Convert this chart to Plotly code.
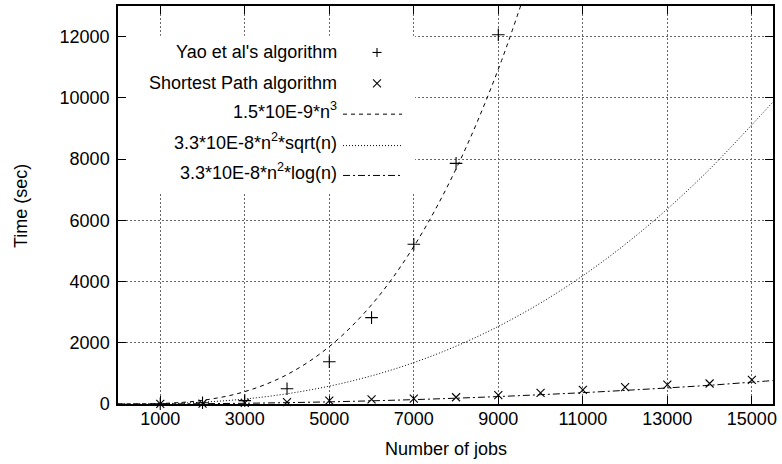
import plotly.graph_objects as go

# ---- data ----
jobs_yao = [1000, 2000, 3000, 4000, 5000, 6000, 7000, 8000, 9000]
time_yao = [10, 40, 110, 500, 1380, 2820, 5220, 7860, 12060]

jobs_sp = [1000, 2000, 3000, 4000, 5000, 6000, 7000, 8000, 9000, 10000,
           11000, 12000, 13000, 14000, 15000]
time_sp = [5, 15, 40, 60, 110, 150, 175, 220, 290, 360, 460, 550, 630, 670, 790]

n_cubic = [0, 1000, 2000, 3000, 4000, 5000, 6000, 7000, 8000, 9000, 10000]
fit_cubic = [0, 15, 120, 405, 960, 1875, 3240, 5145, 7680, 10935, 15000]

n_fit = [0, 1000, 2000, 3000, 4000, 5000, 6000, 7000, 8000, 9000, 10000,
         11000, 12000, 13000, 14000, 15000, 15500]
fit_sqrt = [0, 10, 59, 163, 334, 583, 920, 1353, 1889, 2535, 3300,
            4190, 5212, 6370, 7670, 9120, 9870]
fit_log = [0, 2, 10, 24, 44, 70, 104, 143, 190, 243, 304,
           370, 445, 525, 612, 714, 765]

x_ticks = [1000, 3000, 5000, 7000, 9000, 11000, 13000, 15000]
y_ticks = [0, 2000, 4000, 6000, 8000, 10000, 12000]

labels = ["Yao et al's algorithm", "Shortest Path algorithm",
          "1.5*10E-9*n<sup>3</sup>", "3.3*10E-8*n<sup>2</sup>*sqrt(n)",
          "3.3*10E-8*n<sup>2</sup>*log(n)"]

FONT = "Liberation Sans, Arial, Helvetica, sans-serif"
FS = 18
W, H = 782, 464
ML, MR, MT, MB = 118, 9, 4, 60
PW, PH = W - ML - MR, H - MT - MB


def px(xp):
    return (xp - ML) / PW


def py(yp):
    return (H - MB - yp) / PH


fig = go.Figure()

fig.add_trace(go.Scatter(x=n_cubic, y=fit_cubic, mode="lines", line_shape="spline",
                         line=dict(color="black", width=1, dash="4px,4px"),
                         showlegend=False, hoverinfo="skip"))
fig.add_trace(go.Scatter(x=n_fit, y=fit_sqrt, mode="lines", line_shape="spline",
                         line=dict(color="black", width=1, dash="1px,2px"),
                         showlegend=False, hoverinfo="skip"))
fig.add_trace(go.Scatter(x=n_fit, y=fit_log, mode="lines", line_shape="spline",
                         line=dict(color="black", width=1, dash="7px,3px,2px,3px"),
                         showlegend=False, hoverinfo="skip"))
fig.add_trace(go.Scatter(x=jobs_yao, y=time_yao, mode="markers",
                         marker=dict(symbol="cross-thin", size=9,
                                     line=dict(color="black", width=1.1)),
                         showlegend=False, cliponaxis=False))
fig.add_trace(go.Scatter(x=jobs_sp, y=time_sp, mode="markers",
                         marker=dict(symbol="x-thin", size=8,
                                     line=dict(color="black", width=1.1)),
                         showlegend=False, cliponaxis=False))

shapes = []
# opaque key box hiding the grid
shapes.append(dict(type="rect", xref="x", yref="y", x0=0, x1=7030, y0=6880, y1=12030,
                   fillcolor="white", line=dict(width=0), layer="between"))

row_y = [50.7, 81.7, 112.7, 144.3, 174.3]
text_right = 339
samp_x0, samp_x1, mark_x = 343, 402, 377
annotations = []
for i, lab in enumerate(labels):
    yshift = 0
    if "<sup>" in lab:
        yshift = 4
    annotations.append(dict(text=lab, xref="paper", yref="paper", x=px(text_right),
                            y=py(row_y[i]), xanchor="right", yanchor="middle",
                            yshift=yshift, showarrow=False,
                            font=dict(family=FONT, size=FS, color="black")))

# key marker samples (+ and x), drawn as short strokes
c = row_y[0]
shapes.append(dict(type="line", xref="paper", yref="paper", x0=px(mark_x - 4.5), x1=px(mark_x + 4.5),
                   y0=py(c), y1=py(c), line=dict(color="black", width=1.1)))
shapes.append(dict(type="line", xref="paper", yref="paper", x0=px(mark_x), x1=px(mark_x),
                   y0=py(c - 4.5), y1=py(c + 4.5), line=dict(color="black", width=1.1)))
c = row_y[1]
shapes.append(dict(type="line", xref="paper", yref="paper", x0=px(mark_x - 4), x1=px(mark_x + 4),
                   y0=py(c - 4), y1=py(c + 4), line=dict(color="black", width=1.1)))
shapes.append(dict(type="line", xref="paper", yref="paper", x0=px(mark_x - 4), x1=px(mark_x + 4),
                   y0=py(c + 4), y1=py(c - 4), line=dict(color="black", width=1.1)))
for i, d in zip([2, 3, 4], ["4px,4px", "1px,2px", "7px,3px,2px,3px"]):
    shapes.append(dict(type="line", xref="paper", yref="paper", x0=px(samp_x0), x1=px(samp_x1),
                       y0=py(row_y[i]), y1=py(row_y[i]),
                       line=dict(color="black", width=1, dash=d)))

# axis titles
annotations.append(dict(text="Number of jobs", xref="paper", yref="paper", x=0.5, y=py(449),
                        xanchor="center", yanchor="middle", showarrow=False,
                        font=dict(family=FONT, size=FS, color="black")))
annotations.append(dict(text="Time (sec)", xref="paper", yref="paper", x=px(21), y=py(205),
                        xanchor="center", yanchor="middle", textangle=-90, showarrow=False,
                        font=dict(family=FONT, size=FS, color="black")))

axis_common = dict(showline=True, linecolor="black", linewidth=1.5, mirror="allticks",
                   ticks="inside", ticklen=8, tickwidth=1.2, tickcolor="black",
                   showgrid=True, gridcolor="#666666", gridwidth=1, griddash="2px,2px",
                   zeroline=False, tickfont=dict(family=FONT, size=FS, color="black"))

fig.update_xaxes(range=[0, 15500], tickvals=x_ticks, ticktext=[str(v) for v in x_ticks],
                 ticklabelstandoff=-2, **axis_common)
fig.update_yaxes(range=[0, 13000], tickvals=y_ticks, ticktext=[str(v) for v in y_ticks],
                 ticklabelstandoff=3, **axis_common)

fig.update_layout(width=W, height=H, margin=dict(l=ML, r=MR, t=MT, b=MB, pad=0),
                  paper_bgcolor="white", plot_bgcolor="white", showlegend=False,
                  font=dict(family=FONT, size=FS, color="black"),
                  shapes=shapes, annotations=annotations)

fig.write_html("out.html", config={"displayModeBar": False},
               post_script="document.body.style.margin='0';")
